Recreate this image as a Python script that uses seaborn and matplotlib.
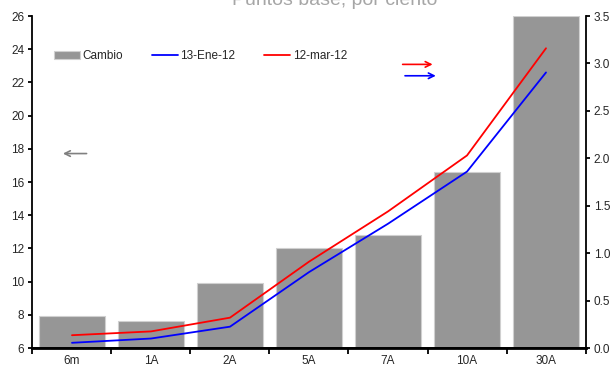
import matplotlib
matplotlib.use("Agg")
import matplotlib.pyplot as plt
import numpy as np
import pandas as pd
import seaborn as sns

# Plazos de la curva
categories = ["6m", "1A", "2A", "5A", "7A", "10A", "30A"]
# Cambio en puntos base (eje izquierdo)
cambio = [7.9, 7.6, 9.9, 12.0, 12.8, 16.6, 26.0]
# Rendimientos en por ciento (eje derecho)
ene_13 = [0.055, 0.10, 0.225, 0.80, 1.31, 1.86, 2.905]
mar_12 = [0.135, 0.175, 0.32, 0.91, 1.44, 2.03, 3.16]

left_ticks = [6, 8, 10, 12, 14, 16, 18, 20, 22, 24, 26]
right_ticks = [0.0, 0.5, 1.0, 1.5, 2.0, 2.5, 3.0, 3.5]

sns.set_style("white")
plt.rcParams["font.family"] = ["Liberation Sans", "DejaVu Sans"]

df = pd.DataFrame({"plazo": categories, "cambio": cambio,
                   "ene": ene_13, "mar": mar_12})
df["pos"] = np.arange(len(df))

fig = plt.figure(figsize=(6.14, 3.68), dpi=100)
ax = fig.add_axes([0.0529, 0.0543, 0.9007, 0.9022])

sns.barplot(data=df, x="pos", y="cambio", ax=ax, color="#969696",
            width=0.83, edgecolor="#d0d0d0", linewidth=0.8,
            saturation=1, native_scale=True)
ax.set_xlim(-0.5, len(categories) - 0.5)
ax.set_ylim(6, 26)
ax.set_yticks(left_ticks)
ax.set_yticklabels([str(t) for t in left_ticks])

ax2 = ax.twinx()
sns.lineplot(data=df, x="pos", y="ene", ax=ax2, color="#0000ff",
             linewidth=1.3, legend=False)
sns.lineplot(data=df, x="pos", y="mar", ax=ax2, color="#ff0000",
             linewidth=1.3, legend=False)
ax2.set_ylim(0, 3.5)
ax2.set_yticks(right_ticks)
ax2.set_yticklabels([f"{t:.1f}" for t in right_ticks])
ax2.set_xlim(-0.5, len(categories) - 0.5)

for a in (ax, ax2):
    a.set_xlabel("")
    a.set_ylabel("")
    a.spines["top"].set_visible(False)
    for s in ("left", "right", "bottom"):
        a.spines[s].set_color("black")
        a.spines[s].set_linewidth(1.3)
ax.spines["right"].set_visible(False)
ax2.spines["left"].set_visible(False)
ax.spines["bottom"].set_linewidth(2)

# Ticks of the category axis sit between categories
ax.set_xticks(np.arange(-0.5, len(categories)), minor=False)
ax.set_xticklabels([""] * (len(categories) + 1))
ax.set_xticks(np.arange(len(categories)), minor=True)
ax.set_xticklabels(categories, minor=True)
ax.tick_params(axis="x", which="major", direction="out", length=4,
               width=1.3, color="black", bottom=True)
ax.tick_params(axis="x", which="minor", length=0, labelsize=8.5, pad=5)
ax.tick_params(axis="y", direction="out", length=3, width=1.3,
               color="black", labelsize=8.5, left=True, pad=3)
ax2.tick_params(axis="y", direction="out", length=3, width=1.3,
                color="black", labelsize=8.5, right=True, pad=3)

# Legend across the top of the plot
handles = [ax.patches[0]] + ax2.get_lines()[:2]
labels = ["Cambio", "13-Ene-12", "12-mar-12"]
leg = ax2.legend(handles, labels, loc="upper left", ncol=3, frameon=False,
                 bbox_to_anchor=(0.02, 0.93), fontsize=8.5,
                 handlelength=2.2, handletextpad=0.2, columnspacing=2.45)

# Arrows pointing to each axis
ax2.annotate("", xy=(4.6, 2.99), xytext=(4.15, 2.99), xycoords="data",
             arrowprops=dict(arrowstyle="->", color="#ff0000", lw=1.2))
ax2.annotate("", xy=(4.64, 2.87), xytext=(4.18, 2.87), xycoords="data",
             arrowprops=dict(arrowstyle="->", color="#0000ff", lw=1.2))
ax2.annotate("", xy=(-0.15, 2.05), xytext=(0.22, 2.05), xycoords="data",
             arrowprops=dict(arrowstyle="->", color="#808080", lw=1.2))

fig.text(0.545, 1 - 5 / 368, "Puntos base, por ciento", ha="center",
         va="baseline", fontsize=14, color="#a6a6a6")

fig.savefig("out.png", dpi=100)
